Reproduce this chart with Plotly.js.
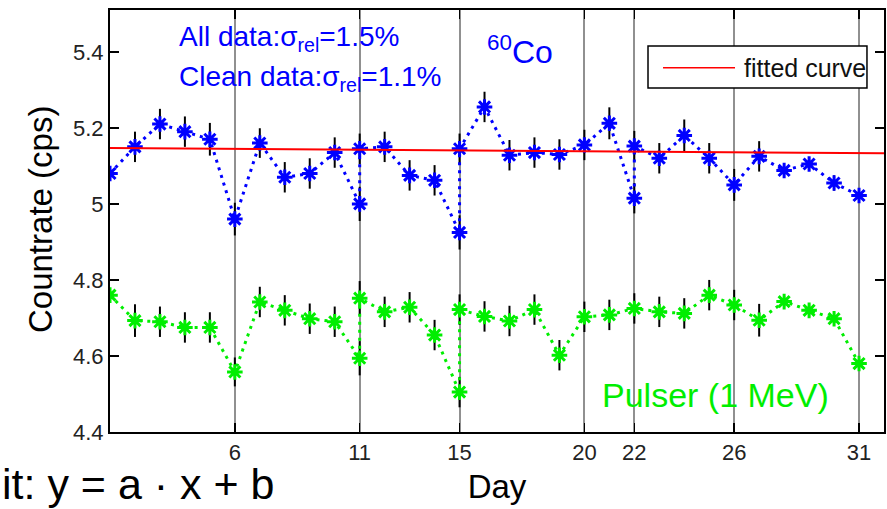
<!DOCTYPE html>
<html>
<head>
<meta charset="utf-8">
<script src="https://cdn.plot.ly/plotly-3.0.1.min.js"></script>
<style>html,body{margin:0;padding:0;background:#fff;}#chart{width:887px;height:509px;}</style>
</head>
<body>
<div id="chart"></div>
<script>
// ---- data ----
var coDays   = [1, 2, 3, 4, 5, 6, 7, 8, 9, 10, 11, 11, 12, 13, 14, 15, 15, 16, 17, 18, 19, 20, 21, 22, 22, 23, 24, 25, 26, 27, 28, 29, 30, 31];
var coRate   = [5.08, 5.15, 5.21, 5.19, 5.17, 4.96, 5.16, 5.07, 5.08, 5.135, 5.0, 5.145, 5.15, 5.075, 5.062, 4.925, 5.145, 5.255, 5.128, 5.135, 5.13, 5.155, 5.212, 5.015, 5.152, 5.12, 5.18, 5.12, 5.05, 5.125, 5.088, 5.105, 5.055, 5.022];
var coErr    = [0, 0.04, 0.04, 0.04, 0.043, 0.043, 0.039, 0.04, 0.04, 0.04, 0.045, 0.04, 0.04, 0.04, 0.04, 0.045, 0.04, 0.04, 0.04, 0.04, 0.04, 0.04, 0.042, 0.04, 0.04, 0.04, 0.042, 0.04, 0.042, 0.04, 0.008, 0.018, 0.02, 0.006];

var pulDays  = [1, 2, 3, 4, 5, 6, 7, 8, 9, 10, 11, 11, 12, 13, 14, 15, 15, 16, 17, 18, 19, 20, 21, 22, 23, 24, 25, 26, 27, 28, 29, 30, 31];
var pulRate  = [4.76, 4.693, 4.69, 4.675, 4.675, 4.558, 4.742, 4.72, 4.698, 4.69, 4.594, 4.752, 4.716, 4.728, 4.655, 4.505, 4.722, 4.704, 4.692, 4.722, 4.602, 4.703, 4.708, 4.725, 4.716, 4.712, 4.76, 4.734, 4.694, 4.743, 4.72, 4.698, 4.58];
var pulErr   = [0, 0.043, 0.04, 0.04, 0.04, 0.038, 0.04, 0.04, 0.04, 0.04, 0.045, 0.045, 0.04, 0.04, 0.04, 0.04, 0.04, 0.04, 0.04, 0.04, 0.04, 0.04, 0.04, 0.04, 0.04, 0.04, 0.04, 0.04, 0.043, 0.015, 0.018, 0.018, 0.008];

var fitDays  = [1, 32];
var fitRate  = [5.147, 5.133];

var xTickVals = [6, 11, 15, 20, 22, 26, 31];
var yTickVals = [4.4, 4.6, 4.8, 5.0, 5.2, 5.4];
var yTickText = ['4.4', '4.6', '4.8', '5', '5.2', '5.4'];

var FONT = 'Liberation Sans, Arial, Helvetica, sans-serif';
var BLUE = '#0000ff', GREEN = '#00ee00', RED = '#ff0000';

function series(x, y, err, col) {
  return {
    x: x, y: y, type: 'scatter', mode: 'lines+markers', showlegend: false,
    line: {color: col, width: 3, dash: '3px,5px'},
    marker: {symbol: 'asterisk-open', size: 13, color: col, line: {color: col, width: 3}},
    error_y: {type: 'data', array: err, visible: true, color: '#000', thickness: 2, width: 0}
  };
}

var traces = [
  series(coDays, coRate, coErr, BLUE),
  series(pulDays, pulRate, pulErr, GREEN),
  {x: fitDays, y: fitRate, type: 'scatter', mode: 'lines', name: 'fitted curve', showlegend: false,
   line: {color: RED, width: 2}}
];

var layout = {
  width: 887, height: 509,
  margin: {l: 110, r: 3, t: 10, b: 77, pad: 0},
  paper_bgcolor: '#fff', plot_bgcolor: '#fff',
  font: {family: FONT, color: '#000'},
  showlegend: false,
  xaxis: {
    range: [1, 32], tickmode: 'array', tickvals: xTickVals,
    ticks: 'inside', ticklen: 9, tickwidth: 1.5, tickcolor: '#000',
    showline: true, linecolor: '#000', linewidth: 2, mirror: 'ticks',
    showgrid: true, gridcolor: '#909090', gridwidth: 2, zeroline: false,
    tickfont: {size: 22, color: '#222', family: FONT},
    ticklabelstandoff: 0,
    title: {text: 'Day', font: {size: 33, color: '#000', family: FONT}, standoff: 10}
  },
  yaxis: {
    range: [4.4, 5.51], tickmode: 'array', tickvals: yTickVals, ticktext: yTickText,
    ticks: 'inside', ticklen: 9, tickwidth: 1.5, tickcolor: '#000',
    showline: true, linecolor: '#000', linewidth: 2, mirror: 'ticks',
    showgrid: false, zeroline: false,
    tickfont: {size: 22, color: '#222', family: FONT},
    ticklabelstandoff: 0,
    title: {text: ''}
  },
  shapes: [
    {type: 'rect', xref: 'paper', yref: 'paper', x0: 0.071, x1: 0.439, y0: 0.7607, y1: 0.998,
     fillcolor: '#fff', line: {width: 0}, layer: 'between'},
    {type: 'rect', xref: 'paper', yref: 'paper', x0: 0.6150, x1: 0.9625, y0: 0.003, y1: 0.1588,
     fillcolor: '#fff', line: {width: 0}, layer: 'between'},
    {type: 'rect', xref: 'paper', yref: 'paper', x0: 0.6951, x1: 0.978, y0: 0.8152, y1: 0.9147,
     fillcolor: '#fff', line: {color: '#000', width: 1.5}, layer: 'above'},
    {type: 'line', xref: 'paper', yref: 'paper', x0: 0.7145, x1: 0.8075, y0: 0.8633, y1: 0.8633,
     line: {color: RED, width: 1.5}, layer: 'above'}
  ],
  annotations: [
    {xref: 'paper', yref: 'paper', x: -0.0891, y: 0.5024, xanchor: 'center', yanchor: 'middle', showarrow: false,
     textangle: -90, text: 'Countrate (cps)', font: {size: 33, color: '#000', family: FONT}},
    {xref: 'paper', yref: 'paper', x: 0.0866, y: 0.9336, xanchor: 'left', yanchor: 'middle', showarrow: false,
     text: 'All data:σ<sub>rel</sub>=1.5%', font: {size: 28, color: BLUE, family: FONT}},
    {xref: 'paper', yref: 'paper', x: 0.0866, y: 0.8365, xanchor: 'left', yanchor: 'middle', showarrow: false,
     text: 'Clean data:σ<sub>rel</sub>=1.1%', font: {size: 28, color: BLUE, family: FONT}},
    {xref: 'paper', yref: 'paper', x: 0.484, y: 0.905, xanchor: 'left', yanchor: 'middle', showarrow: false,
     text: '<sup>60</sup>Co', font: {size: 32, color: BLUE, family: FONT}},
    {xref: 'paper', yref: 'paper', x: 0.6335, y: 0.0870, xanchor: 'left', yanchor: 'middle', showarrow: false,
     text: 'Pulser (1 MeV)', font: {size: 34, color: GREEN, family: FONT}},
    {xref: 'paper', yref: 'paper', x: 0.8165, y: 0.8633, xanchor: 'left', yanchor: 'middle', showarrow: false,
     text: 'fitted curve', font: {size: 25, color: '#111', family: FONT}},
    {xref: 'paper', yref: 'paper', x: -0.1420, y: -0.1240, xanchor: 'left', yanchor: 'middle', showarrow: false,
     text: 'it: y = a · x + b', font: {size: 43, color: '#000', family: FONT}}
  ]
};

Plotly.newPlot('chart', traces, layout, {displayModeBar: false, staticPlot: true});
</script>
</body>
</html>
